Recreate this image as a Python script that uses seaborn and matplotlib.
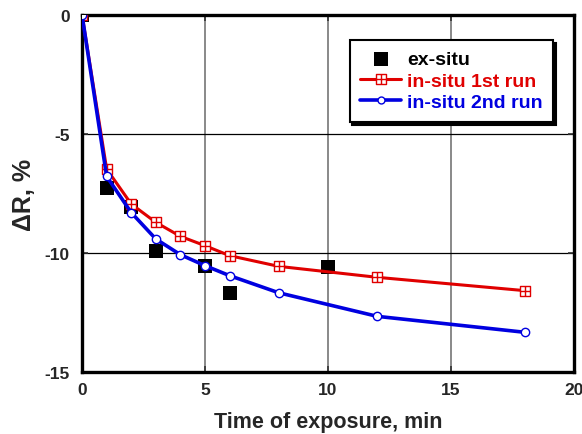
import numpy as np
import matplotlib
matplotlib.use("Agg")
import matplotlib.pyplot as plt
from matplotlib.path import Path
import seaborn as sns

# data
ex_x = [0, 1, 2, 3, 5, 6, 10]
ex_y = [0, -7.27, -8.08, -9.90, -10.53, -11.68, -10.60]
run1_x = [0, 1, 2, 3, 4, 5, 6, 8, 12, 18]
run1_y = [0, -6.47, -7.94, -8.71, -9.30, -9.69, -10.11, -10.56, -11.02, -11.58]
run2_x = [0, 1, 2, 3, 4, 5, 6, 8, 12, 18]
run2_y = [0, -6.78, -8.30, -9.41, -10.07, -10.53, -10.95, -11.67, -12.66, -13.33]
xticks = [0, 5, 10, 15, 20]
yticks = [0, -5, -10, -15]

sns.set_theme(style="white")
plt.rcParams['font.family'] = ['Liberation Sans', 'DejaVu Sans']
plt.rcParams['font.weight'] = 'bold'

fig = plt.figure(figsize=(5.82, 4.35), dpi=100)
ax = fig.add_axes([0.141, 0.1425, 0.845, 0.8205])

# custom square-with-cross marker
verts = [(-1, -1), (1, -1), (1, 1), (-1, 1), (-1, -1),
         (-1, 0), (1, 0), (0, -1), (0, 1)]
codes = [Path.MOVETO, Path.LINETO, Path.LINETO, Path.LINETO, Path.CLOSEPOLY,
         Path.MOVETO, Path.LINETO, Path.MOVETO, Path.LINETO]
sqcross = Path(verts, codes)

ax.grid(False)
for gx in [5, 10, 15]:
    ax.axvline(gx, color='#808080', lw=1.3, zorder=0.5)
for gy in [-5, -10]:
    ax.axhline(gy, color='black', lw=0.9, zorder=0.5)

sns.scatterplot(x=ex_x, y=ex_y, marker='s', s=95, color='black',
                edgecolor='black', linewidth=0, ax=ax, zorder=2, label='ex-situ')
sns.lineplot(x=run1_x, y=run1_y, color='#e00000', lw=2.2, marker=sqcross,
             markersize=7.5, markerfacecolor='white', markeredgecolor='#e00000',
             markeredgewidth=1.0, ax=ax, zorder=3, label='in-situ 1st run')
sns.lineplot(x=run2_x, y=run2_y, color='#0000e0', lw=2.6, marker='o',
             markersize=6, markerfacecolor='white', markeredgecolor='#0000e0',
             markeredgewidth=1.0, ax=ax, zorder=4, label='in-situ 2nd run')

ax.set_xlim(0, 20)
ax.set_ylim(-15, 0)
ax.set_xticks(xticks)
ax.set_yticks(yticks)
ax.set_xticklabels([str(t) for t in xticks], fontsize=12.5, fontweight='bold')
ax.set_yticklabels([str(t) for t in yticks], fontsize=12.5, fontweight='bold')
ax.tick_params(direction='in', length=4, width=1.2, color='#333333',
               top=True, right=True, bottom=True, left=True)
ax.tick_params(axis='x', pad=7)
ax.tick_params(axis='y', pad=9)
for sp in ax.spines.values():
    sp.set_linewidth(2.4)
    sp.set_color('black')

ax.set_xlabel('Time of exposure, min', fontsize=15.5, fontweight='bold', labelpad=10)
ax.set_ylabel('ΔR, %', fontsize=18, fontweight='bold', labelpad=6)

leg = ax.legend(loc='upper right', bbox_to_anchor=(0.958, 0.931), frameon=True,
                fancybox=False, shadow={'color': 'black', 'alpha': 1},
                prop={'weight': 'bold', 'size': 14}, handlelength=2.1,
                borderpad=0.55, borderaxespad=0, labelspacing=0.2,
                handletextpad=0.3, markerscale=1.0)
leg.get_frame().set_edgecolor('black')
leg.get_frame().set_linewidth(1.5)
hs = leg.legend_handles
hs[0].set_sizes([95])
hs[1].set_markersize(6.5)
hs[2].set_markersize(5)
for txt, c in zip(leg.get_texts(), ['black', '#e00000', '#0000e0']):
    txt.set_color(c)

fig.savefig('out.png', dpi=100)
